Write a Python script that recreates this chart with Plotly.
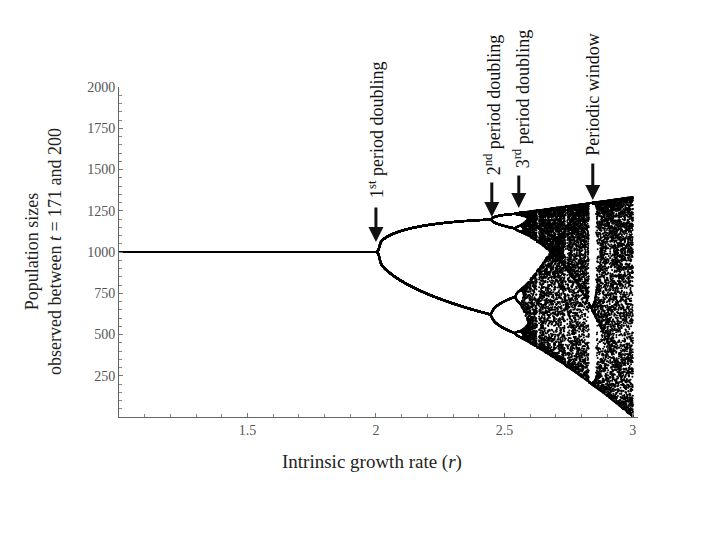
import numpy as np
import plotly.graph_objects as go

# Model shown in the chart: discrete logistic growth N(t+1) = N(t) + r N(t) (1 - N(t)/K)
carrying_capacity = 1000.0
initial_population = 500.0
t_first_kept = 171
t_last_kept = 200
r_values = np.round(np.arange(1.0, 3.0 + 1e-9, 0.001), 4)

x_tick_values = [1.5, 2, 2.5, 3]
x_tick_labels = ["1.5", "2", "2.5", "3"]
y_tick_values = [250, 500, 750, 1000, 1250, 1500, 1750, 2000]
y_tick_labels = ["250", "500", "750", "1000", "1250", "1500", "1750", "2000"]

# Iterate the map for each r and keep the population sizes between t = 171 and 200
pts_r, pts_n = [], []
n = np.full(r_values.shape, initial_population)
for t in range(1, t_last_kept + 1):
    n = n + r_values * n * (1 - n / carrying_capacity)
    if t >= t_first_kept:
        pts_r.append(r_values.copy())
        pts_n.append(n.copy())
pts_r = np.concatenate(pts_r)
pts_n = np.concatenate(pts_n)

serif = "Liberation Serif, Times New Roman, serif"

fig = go.Figure()
fig.add_trace(go.Scatter(
    x=pts_r, y=pts_n, mode="markers",
    marker=dict(color="black", size=2.0, line=dict(width=0)),
    hoverinfo="skip", showlegend=False,
))

axis_common = dict(
    showgrid=False, zeroline=False, showline=True, linecolor="#666", linewidth=1,
    ticks="inside", ticklen=4, tickcolor="#777",
    tickfont=dict(family=serif, size=14, color="#555"),
)
fig.update_xaxes(range=[1, 3.02], tickvals=x_tick_values, ticktext=x_tick_labels,
                 minor=dict(dtick=0.1, ticks="inside", ticklen=3, tickcolor="#888"),
                 **axis_common)
fig.update_yaxes(range=[0, 2000], tickvals=y_tick_values, ticktext=y_tick_labels,
                 minor=dict(dtick=50, ticks="inside", ticklen=3, tickcolor="#888"),
                 **axis_common)

ann = []
# Axis titles
ann.append(dict(text="Intrinsic growth rate (<i>r</i>)", xref="paper", yref="paper",
                x=(372 - 119) / 519, y=-(462 - 417) / 330, xanchor="center", yanchor="middle",
                showarrow=False, font=dict(family=serif, size=19, color="#222")))
ann.append(dict(text="Population sizes<br>observed between <i>t</i> = 171 and 200",
                xref="paper", yref="paper", x=-(119 - 43) / 519, y=(417 - 252) / 330,
                xanchor="center", yanchor="middle", textangle=-90, showarrow=False,
                font=dict(family=serif, size=18, color="#222")))

# Downward arrows (tip in data coordinates, tail offset in pixels)
arrows = [(2.0, 1060, -36), (2.451, 1212, -36), (2.556, 1267, -34), (2.844, 1315, -38)]
for ax_r, tip_y, off in arrows:
    ann.append(dict(x=ax_r, y=tip_y, xref="x", yref="y", ax=0, ay=off, text="",
                    showarrow=True, arrowhead=2, arrowsize=1, arrowwidth=3, arrowcolor="#111"))
# Upward arrow for r*
ann.append(dict(x=2.57, y=-18, xref="x", yref="y", ax=0, ay=32, text="",
                showarrow=True, arrowhead=2, arrowsize=1, arrowwidth=3, arrowcolor="#111"))
ann.append(dict(x=2.578, y=-(467 - 417) * 2000 / 330, xref="x", yref="y", text="<i>r</i>*",
                showarrow=False, xanchor="center", yanchor="middle",
                font=dict(family=serif, size=19, color="#111")))

labels = [
    ("1<sup>st</sup> period doubling", 2.0, 1315),
    ("2<sup>nd</sup> period doubling", 2.455, 1455),
    ("3<sup>rd</sup> period doubling", 2.568, 1497),
    ("Periodic window", 2.844, 1570),
]
for txt, lx, ly in labels:
    ann.append(dict(text=txt, x=lx, y=ly, xref="x", yref="y", textangle=-90,
                    xanchor="center", yanchor="bottom", showarrow=False,
                    font=dict(family=serif, size=18, color="#111")))

# The page adds an 8 px body margin, so the margins compensate for it
fig.update_layout(
    width=720, height=540,
    margin=dict(l=111, r=90, t=79, b=131, autoexpand=False),
    paper_bgcolor="white", plot_bgcolor="white",
    annotations=ann,
)

fig.write_html("out.html")
